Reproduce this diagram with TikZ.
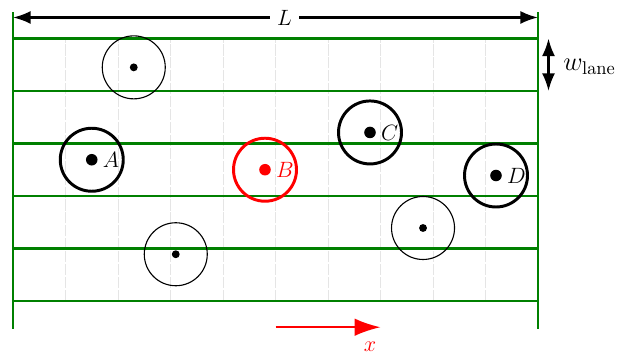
\documentclass[tikz,border=0pt]{standalone}
\usetikzlibrary{arrows.meta}
\tikzset{
  lane/.style={green!50!black, line width=1.2pt},
  gridline/.style={gray!20, line width=0.5pt, dash pattern=on 6pt off 1pt},
  dimarrow/.style={line width=1.2pt, {Latex[length=9.5pt,width=7pt]}-{Latex[length=9.5pt,width=7pt]}},
  ringthin/.style={circle, draw, line width=0.6pt, minimum size=1.2cm, inner sep=0},
  ringthick/.style={circle, draw, line width=1.6pt, minimum size=1.2cm, inner sep=0},
  smalldot/.style={circle, fill, inner sep=0, minimum size=0.15cm},
  bigdot/.style={circle, fill, inner sep=0, minimum size=0.22cm},
  lbl/.style={anchor=west, inner sep=2.5pt},
  every node/.append style={font=\large},
}
\begin{document}
\begin{tikzpicture}
\useasboundingbox (-0.248,-1.01) rectangle (11.619,5.733);
% grid
\foreach \i in {1,...,9} \draw[gridline] (\i,0) -- (\i,5);
% lanes
\foreach \j in {0,...,5} \draw[lane] (0,\j) -- (10,\j);
\coordinate (LB) at (0,-0.53);
\coordinate (LT) at (0,5.5);
\coordinate (RB) at (10,-0.53);
\coordinate (RT) at (10,5.5);
\draw[lane] (LB) -- (LT);
\draw[lane] (RB) -- (RT);
% L dimension
\coordinate (La) at (0,5.4);
\coordinate (Lb) at (10,5.4);
\draw[dimarrow] (La) -- (Lb) node[pos=0.517, fill=white, inner xsep=4pt, inner ysep=1pt] (Ltxt) {$L$};
% lane width
\coordinate (Wa) at (10.2,5);
\coordinate (Wb) at (10.2,4);
\draw[dimarrow] (Wa) -- (Wb);
\node[anchor=west, font=\Large] (wlane) at (10.36,4.47) {$w_{\mathrm{lane}}$};
% x direction
\coordinate (Xa) at (5,-0.5);
\coordinate (Xb) at (7,-0.5);
\draw[red, line width=1.1pt, -{Latex[length=14pt,width=9.5pt]}] (Xa) -- (Xb);
\node[red] (xlbl) at (6.8,-0.88) {$x$};
% plain vehicles
\node[smalldot] (p1) at (2.3,4.45) {};
\node[ringthin] (p1r) at (p1) {};
\node[smalldot] (p2) at (3.1,0.89) {};
\node[ringthin] (p2r) at (p2) {};
\node[smalldot] (p3) at (7.81,1.39) {};
\node[ringthin] (p3r) at (p3) {};
% labelled vehicles
\node[bigdot] (A) at (1.5,2.69) {};
\node[ringthick] (Ar) at (A) {};
\node[lbl] (Al) at (A.east) {$A$};
\node[bigdot, red] (B) at (4.8,2.5) {};
\node[ringthick, red] (Br) at (B) {};
\node[lbl, red] (Bl) at (B.east) {$B$};
\node[bigdot] (C) at (6.8,3.21) {};
\node[ringthick] (Cr) at (C) {};
\node[lbl] (Cl) at (C.east) {$C$};
\node[bigdot] (D) at (9.2,2.39) {};
\node[ringthick] (Dr) at (D) {};
\node[lbl] (Dl) at (D.east) {$D$};
\end{tikzpicture}
\end{document}
